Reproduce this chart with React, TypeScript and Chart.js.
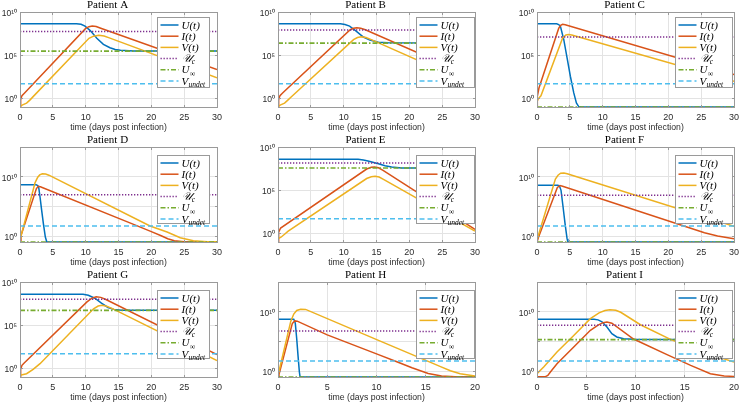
import React, { useEffect, useRef } from "react";
import { Chart, registerables } from "chart.js";

Chart.register(...registerables);

// Each point: [time in days post infection, log10 of the value]
type Pt = [number, number];

// ---------------- data ----------------
const TITLES = ["Patient A", "Patient B", "Patient C", "Patient D", "Patient E", "Patient F", "Patient G", "Patient H", "Patient I"];
const X_MAX = [30, 30, 30, 30, 30, 30, 30, 20, 20];
const Y_MAX_EXP = [10, 10, 10, 15, 10, 15, 10, 15, 15];
const Y_MIN_EXP = -1;
const X_TICKS_30 = [0, 5, 10, 15, 20, 25, 30];
const X_TICKS_20 = [0, 5, 10, 15, 20];
const Y_TICK_EXP = [0, 5, 10];
const Y_TICK_LABELS_SHORT = ["10⁰", "10⁵", "10¹⁰"];
const Y_TICK_LABELS_TALL = ["10⁰", "", "10¹⁰"];
const X_LABEL = "time (days post infection)";
const SERIES_LABELS = ["U(t)", "I(t)", "V(t)", "𝒰c", "U∞", "Vundet"];
const LEGEND_MAIN = ["U(t)", "I(t)", "V(t)", "𝒰", "U", "V"];
const LEGEND_SUB = ["", "", "", "c", "∞", "undet"];

// horizontal reference levels (log10)
const UC_EXP = [7.75, 7.91, 7.1, 6.97, 8.15, 6.86, 8.0, 6.75, 7.7];
const UINF_EXP = [5.47, 6.4, -1, -1, 7.57, -1, 6.72, -1, 5.29];
const VUNDET_EXP = 1.7;

const A_U: Pt[] = [[0, 8.64], [8.6, 8.64], [9.3, 8.58], [9.9, 8.37], [10.7, 7.85], [11.7, 6.95], [12.7, 6.25], [13.7, 5.86], [14.5, 5.66], [15.3, 5.57], [17.3, 5.48], [30, 5.47]];
const A_I: Pt[] = [[0, -1], [0.1, -0.15], [0.3, 0.32], [0.7, 0.63], [10, 8.1], [10.5, 8.3], [11, 8.37], [11.6, 8.32], [12.3, 8.12], [30, 3.34]];
const A_V: Pt[] = [[0, -0.92], [0.4, -0.75], [1, -0.55], [1.5, -0.2], [2, 0.2], [10.5, 6.95], [11.2, 7.2], [12, 7.3], [12.8, 7.22], [13.6, 7.0], [30, 2.37]];

const B_U: Pt[] = [[0, 8.64], [9.5, 8.64], [10.2, 8.55], [10.9, 8.37], [11.9, 7.79], [13, 7.1], [14, 6.75], [15.3, 6.51], [16.8, 6.44], [30, 6.42]];
const B_I: Pt[] = [[0, -1], [0.1, -0.15], [0.3, 0.32], [0.7, 0.63], [11, 7.95], [11.5, 8.12], [12, 8.18], [12.6, 8.12], [13.3, 7.95], [30, 2.37]];
const B_V: Pt[] = [[0, -0.92], [0.4, -0.75], [1, -0.55], [1.5, -0.2], [2, 0.15], [11.5, 6.8], [12.1, 7.05], [12.7, 7.13], [13.4, 7.05], [14.2, 6.8], [30, 1.48]];

const C_U: Pt[] = [[0, 8.64], [3.0, 8.64], [3.3, 8.55], [3.56, 8.37], [4.07, 6.82], [4.58, 4.69], [5.08, 2.56], [5.6, 0.63], [6.0, -0.53], [6.35, -0.95], [6.7, -1], [30, -1]];
const C_I: Pt[] = [[0, -1], [0.05, 0.24], [0.3, 1.2], [3.3, 8.1], [3.6, 8.45], [3.9, 8.57], [4.3, 8.52], [30, 2.76]];
const C_V: Pt[] = [[0, -0.34], [0.3, 0.05], [0.6, 0.3], [3.9, 7.0], [4.4, 7.35], [4.8, 7.4], [5.3, 7.33], [30, 1.98]];

const D_U: Pt[] = [[0, 8.66], [2.44, 8.66], [2.7, 8.5], [2.85, 8.2], [3.05, 6.58], [3.3, 4.33], [3.56, 2.09], [3.86, -0.16], [4.07, -0.97], [4.3, -1], [30, -1]];
const D_I: Pt[] = [[0, -0.72], [0.15, 0.1], [2.5, 8.0], [2.8, 8.37], [3.1, 8.3], [17.3, 1.97], [20, 0.75], [21.5, 0.05], [22.5, -0.45], [23.5, -0.78], [25, -0.95], [30, -0.99]];
const D_V: Pt[] = [[0, -0.83], [0.2, 0.2], [2.3, 9.0], [2.7, 9.9], [3.0, 10.3], [3.4, 10.5], [3.9, 10.45], [4.4, 10.25], [19.8, 1.69], [22.4, 0.68], [24.4, -0.27], [26.4, -0.78], [28.5, -0.95], [30, -0.97]];

const E_U: Pt[] = [[0, 8.57], [12.2, 8.57], [13, 8.5], [13.7, 8.38], [15.3, 8.07], [16.3, 7.84], [17.3, 7.68], [18.8, 7.58], [20, 7.57], [30, 7.57]];
const E_I: Pt[] = [[0, -1], [0.1, 0.15], [0.4, 0.62], [13.5, 7.45], [14.2, 7.65], [14.7, 7.68], [15.3, 7.6], [16, 7.3], [30, 0.45]];
const E_V: Pt[] = [[0, -0.62], [0.5, -0.42], [1, -0.1], [1.5, 0.23], [13.5, 6.35], [14.2, 6.55], [14.8, 6.6], [15.4, 6.52], [16.2, 6.2], [30, 0.27]];

const F_U: Pt[] = [[0, 8.54], [3.2, 8.54], [3.45, 8.35], [3.66, 7.7], [3.97, 4.89], [4.27, 2.09], [4.58, -0.44], [4.7, -0.97], [4.9, -1], [30, -1]];
const F_I: Pt[] = [[0, -1], [0.2, -0.27], [0.5, 0.6], [3.1, 8.2], [3.5, 8.5], [3.9, 8.4], [25.5, 0.55], [27.5, 0.0], [30, -0.45]];
const F_V: Pt[] = [[0, -0.72], [0.2, 0.1], [2.8, 9.6], [3.2, 10.25], [3.6, 10.58], [4.1, 10.62], [4.6, 10.5], [30, 1.64]];

const G_U: Pt[] = [[0, 8.58], [9.6, 8.58], [10.4, 8.47], [11.4, 8.12], [12.4, 7.55], [13.4, 7.05], [14.3, 6.83], [15.5, 6.74], [30, 6.72]];
const G_I: Pt[] = [[0, -1], [0.1, -0.1], [0.3, 0.35], [0.6, 0.6], [10.2, 7.7], [10.9, 8.1], [11.6, 8.3], [12.3, 8.22], [13, 8.0], [30, 1.6]];
const G_V: Pt[] = [[0, -0.81], [1, -0.62], [2, -0.12], [3.05, 0.54], [11.2, 6.9], [11.9, 7.22], [12.5, 7.3], [13.2, 7.2], [14, 6.95], [30, 0.9]];

const H_U: Pt[] = [[0, 8.71], [1.6, 8.71], [1.7, 8.4], [1.76, 7.98], [1.9, 5.45], [2.03, 2.65], [2.17, -0.16], [2.24, -0.97], [2.35, -1], [20, -1]];
const H_I: Pt[] = [[0, -1], [0.1, -0.6], [1.45, 8.0], [1.7, 8.45], [1.95, 8.4], [5, 6.1], [10.2, 2.76], [12, 1.6], [13.6, 0.55], [15.25, -0.4], [16.6, -0.85], [18, -0.96], [20, -0.98]];
const H_V: Pt[] = [[0, -0.72], [0.15, 0.3], [1.3, 8.4], [1.6, 9.6], [1.9, 10.2], [2.3, 10.42], [2.8, 10.38], [10.2, 5.17], [15.25, 1.64], [16.5, 0.75], [17.5, 0.05], [18.5, -0.45], [20, -0.83]];

const I_U: Pt[] = [[0, 8.71], [5.8, 8.71], [6.2, 8.62], [6.6, 8.3], [7.1, 7.42], [7.6, 6.3], [8.1, 5.74], [8.8, 5.45], [9.8, 5.34], [11, 5.3], [20, 5.3]];
const I_I: Pt[] = [[0, -0.97], [0.8, -0.97], [1.1, -0.75], [1.36, -0.16], [2.03, 1.24], [3.73, 4.05], [5.42, 6.86], [6.2, 7.75], [6.7, 8.15], [7.1, 8.27], [7.6, 8.05], [9.8, 5.4], [13.2, 2.76], [15.6, 0.96], [17.6, -0.44], [19, -0.83], [20, -0.9]];
const I_V: Pt[] = [[0, -0.44], [0.68, 0.68], [2.03, 3.2], [3.73, 6.0], [5.42, 8.82], [6.3, 9.8], [6.9, 10.2], [7.4, 10.34], [8.0, 10.25], [8.5, 9.9], [10.5, 7.8], [13.6, 5.3], [17, 3.1], [20, 1.52]];

const U_SERIES = [A_U, B_U, C_U, D_U, E_U, F_U, G_U, H_U, I_U];
const I_SERIES = [A_I, B_I, C_I, D_I, E_I, F_I, G_I, H_I, I_I];
const V_SERIES = [A_V, B_V, C_V, D_V, E_V, F_V, G_V, H_V, I_V];

// ---------------- styles & layout ----------------
const COLORS = ["#0072BD", "#D95319", "#EDB120", "#7E2F8E", "#77AC30", "#4DBEEE"];
const DASHES: number[][] = [[], [], [], [1.3, 1.7], [5, 2, 1.5, 2], [5, 3]];
const WIDTHS = [1.5, 1.5, 1.5, 1.5, 1.6, 1.5];
const GRID_COLOR = "#e3e3e3";
const AXIS_COLOR = "#9a9a9a";
const TEXT_COLOR = "#2b2b2b";
const SANS = "'Liberation Sans', Arial, sans-serif";
const SERIF = "'Liberation Serif', 'DejaVu Serif', serif";

const COL_LEFT = [20, 278, 537];
const ROW_TOP = [12, 147, 282];
const PLOT_W = 197;
const PLOT_H = 95;
const M_LEFT = 22;
const M_RIGHT = 22;
const M_TOP = 14;
const M_BOTTOM = 28;
const LEGEND_DX = [137, 138, 138];
const LEGEND_W = [52, 58, 57];
const LEGEND_DY = [5, 8, 8];
const LEGEND_H = [70, 68, 68];

const decorPlugin = {
  id: "decor",
  afterDatasetsDraw(chart: any, _args: any, opts: any) {
    const { ctx, chartArea: a, scales } = chart;
    const xs = scales.x;
    const ys = scales.y;
    const L = Math.floor(a.left) + 0.5;
    const R = Math.floor(a.right) + 0.5;
    const T = Math.floor(a.top) + 0.5;
    const B = Math.floor(a.bottom) + 0.5;
    ctx.save();
    ctx.setLineDash([]);
    ctx.strokeStyle = AXIS_COLOR;
    ctx.lineWidth = 1;
    ctx.strokeRect(L, T, R - L, B - T);
    ctx.beginPath();
    for (const t of xs.ticks) {
      const p = Math.floor(xs.getPixelForValue(t.value)) + 0.5;
      ctx.moveTo(p, B);
      ctx.lineTo(p, B - 2.5);
      ctx.moveTo(p, T);
      ctx.lineTo(p, T + 2.5);
    }
    for (const t of ys.ticks) {
      const p = Math.floor(ys.getPixelForValue(t.value)) + 0.5;
      ctx.moveTo(L, p);
      ctx.lineTo(L + 2.5, p);
      ctx.moveTo(R, p);
      ctx.lineTo(R - 2.5, p);
    }
    ctx.stroke();

    // legend box
    const lg = opts.box;
    const bx = Math.floor(a.left + lg.dx) + 0.5;
    const by = Math.floor(a.top + lg.dy) + 0.5;
    ctx.fillStyle = "#ffffff";
    ctx.fillRect(bx, by, lg.w, lg.h);
    ctx.strokeStyle = AXIS_COLOR;
    ctx.strokeRect(bx, by, lg.w, lg.h);
    chart.data.datasets.forEach((ds: any, i: number) => {
      const cy = by + 7.5 + i * 11.2;
      ctx.strokeStyle = ds.borderColor;
      ctx.lineWidth = ds.borderWidth;
      ctx.setLineDash(ds.borderDash || []);
      ctx.beginPath();
      ctx.moveTo(bx + 3, cy);
      ctx.lineTo(bx + 21, cy);
      ctx.stroke();
      ctx.setLineDash([]);
      ctx.fillStyle = "#000";
      ctx.textAlign = "left";
      ctx.textBaseline = "alphabetic";
      ctx.font = `italic 11px ${SERIF}`;
      const base = cy + 3.6;
      ctx.fillText(LEGEND_MAIN[i], bx + 24, base);
      if (LEGEND_SUB[i]) {
        const w = ctx.measureText(LEGEND_MAIN[i]).width;
        ctx.font = `italic 7.5px ${SERIF}`;
        ctx.fillText(LEGEND_SUB[i], bx + 24 + w + 0.3, base + 2.2);
      }
    });
    ctx.restore();
  },
};

function toPoints(series: Pt[]) {
  return series.map(([t, e]) => ({ x: t, y: Math.pow(10, e) }));
}

function levelLine(e: number, xmax: number) {
  return [
    { x: 0, y: Math.pow(10, e) },
    { x: xmax, y: Math.pow(10, e) },
  ];
}

function Panel({ idx }: { idx: number }) {
  const ref = useRef<HTMLCanvasElement | null>(null);
  const col = idx % 3;
  const row = Math.floor(idx / 3);
  const cw = M_LEFT + PLOT_W + M_RIGHT;
  const ch = M_TOP + PLOT_H + M_BOTTOM;

  useEffect(() => {
    const xmax = X_MAX[idx];
    const xTicks = xmax === 20 ? X_TICKS_20 : X_TICKS_30;
    const tall = Y_MAX_EXP[idx] === 15;
    const yLabels = tall ? Y_TICK_LABELS_TALL : Y_TICK_LABELS_SHORT;
    const seriesData = [
      toPoints(U_SERIES[idx]),
      toPoints(I_SERIES[idx]),
      toPoints(V_SERIES[idx]),
      levelLine(UC_EXP[idx], xmax),
      levelLine(UINF_EXP[idx], xmax),
      levelLine(VUNDET_EXP, xmax),
    ];
    const datasets = seriesData.map((d, i) => ({
      label: SERIES_LABELS[i],
      data: d,
      borderColor: COLORS[i],
      backgroundColor: COLORS[i],
      borderWidth: WIDTHS[i],
      borderDash: DASHES[i],
      pointRadius: 0,
      pointHoverRadius: 0,
      tension: 0,
      fill: false,
      order: 5 - i,
    }));
    const chart = new Chart(ref.current as HTMLCanvasElement, {
      type: "line",
      data: { datasets } as any,
      plugins: [decorPlugin as any],
      options: {
        responsive: false,
        animation: false,
        events: [],
        layout: { padding: { top: 0, left: 0, right: M_RIGHT, bottom: 0 } },
        plugins: {
          legend: { display: false },
          tooltip: { enabled: false },
          title: {
            display: true,
            text: TITLES[idx],
            color: "#000",
            font: { family: SERIF, size: 11, weight: "normal", lineHeight: "12px" } as any,
            padding: { top: 1, bottom: 1 },
          },
          decor: {
            box: { dx: LEGEND_DX[col], dy: LEGEND_DY[row], w: LEGEND_W[col], h: LEGEND_H[row] },
          },
        } as any,
        scales: {
          x: {
            type: "linear",
            min: 0,
            max: xmax,
            afterBuildTicks: (s: any) => {
              s.ticks = xTicks.map((v) => ({ value: v }));
            },
            afterFit: (s: any) => {
              s.height = M_BOTTOM;
            },
            grid: { color: GRID_COLOR, drawTicks: false, lineWidth: 1 },
            border: { display: false },
            ticks: {
              padding: 5,
              maxRotation: 0,
              autoSkip: false,
              color: TEXT_COLOR,
              font: { family: SANS, size: 9 },
            },
            title: {
              display: true,
              text: X_LABEL,
              color: TEXT_COLOR,
              font: { family: SANS, size: 8.7 },
              padding: { top: 0, bottom: 2.4 },
            },
          },
          y: {
            type: "logarithmic",
            min: Math.pow(10, Y_MIN_EXP),
            max: Math.pow(10, Y_MAX_EXP[idx]),
            afterBuildTicks: (s: any) => {
              s.ticks = Y_TICK_EXP.map((e) => ({ value: Math.pow(10, e) }));
            },
            afterFit: (s: any) => {
              s.width = M_LEFT;
            },
            grid: { color: GRID_COLOR, drawTicks: false, lineWidth: 1 },
            border: { display: false },
            ticks: {
              padding: 3,
              labelOffset: 1.5,
              autoSkip: false,
              color: TEXT_COLOR,
              font: { family: SANS, size: 8.5 },
              callback: (value: any) => {
                const e = Math.round(Math.log10(Number(value)));
                const k = Y_TICK_EXP.indexOf(e);
                return k >= 0 ? yLabels[k] : "";
              },
            },
          },
        } as any,
      },
    });
    return () => chart.destroy();
  }, [idx]);

  return (
    <canvas
      ref={ref}
      width={cw}
      height={ch}
      style={{
        position: "absolute",
        left: COL_LEFT[col] - M_LEFT,
        top: ROW_TOP[row] - M_TOP,
        width: cw,
        height: ch,
      }}
    />
  );
}

export default function App() {
  return (
    <div
      style={{
        position: "absolute",
        left: 0,
        top: 0,
        width: 740,
        height: 403,
        overflow: "hidden",
        background: "#ffffff",
      }}
    >
      {TITLES.map((_, i) => (
        <Panel key={i} idx={i} />
      ))}
    </div>
  );
}
